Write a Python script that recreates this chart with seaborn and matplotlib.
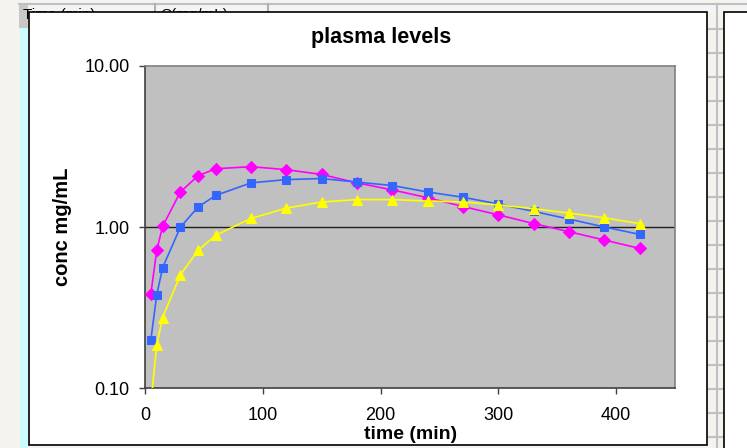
import matplotlib
matplotlib.use("Agg")
import matplotlib.pyplot as plt
import matplotlib.patches as mpatches
import matplotlib.lines as mlines
import seaborn as sns
import pandas as pd
from matplotlib.ticker import FixedLocator, FuncFormatter

# ---------------- data ----------------
time_min = [5, 10, 15, 30, 45, 60, 90, 120, 150, 180, 210, 240, 270, 300, 330, 360, 390, 420]
conc_magenta = [0.385, 0.72, 1.01, 1.65, 2.08, 2.30, 2.37, 2.27, 2.12, 1.88, 1.70, 1.52,
                1.34, 1.19, 1.05, 0.935, 0.83, 0.736]
conc_blue = [0.20, 0.38, 0.56, 0.996, 1.33, 1.57, 1.88, 1.97, 2.00, 1.90, 1.81, 1.65,
             1.53, 1.39, 1.25, 1.12, 1.00, 0.90]
conc_yellow = [0.08, 0.186, 0.274, 0.504, 0.715, 0.888, 1.13, 1.31, 1.43, 1.48, 1.48, 1.45,
               1.43, 1.37, 1.30, 1.22, 1.14, 1.05]
x_ticks = [0, 100, 200, 300, 400]
y_ticks = [0.1, 1.0, 10.0]
title = "plasma levels"
x_label = "time (min)"
y_label = "conc mg/mL"

W, H = 747, 448
plt.rcParams['font.family'] = ['Liberation Sans', 'DejaVu Sans']

fig = plt.figure(figsize=(W / 100, H / 100), dpi=100)
fig.patch.set_facecolor('#f5f3ee')


def fx(x):
    return x / W


def fy(y):
    return 1 - y / H


def rect(x0, y0, x1, y1, fc, ec='none', lw=0, z=0):
    r = mpatches.Rectangle((fx(x0), fy(y1)), fx(x1) - fx(x0), fy(y0) - fy(y1),
                           transform=fig.transFigure, facecolor=fc, edgecolor=ec,
                           linewidth=lw, zorder=z)
    fig.patches.append(r)


def fline(xs, ys, c, lw=1.0, z=1):
    fig.lines.append(mlines.Line2D([fx(v) for v in xs], [fy(v) for v in ys],
                                   transform=fig.transFigure, color=c, linewidth=lw, zorder=z))


# spreadsheet background pieces
rect(19, 4, W, 13, '#f4f4f4', z=0.5)          # column header band
rect(19, 4, 28, 28, '#c8c8c8', z=0.6)          # corner
rect(20, 28, 28, H, '#ccfcfd', z=0.6)          # cyan row strip
fline([19, W], [4.5, 4.5], '#c0c0c0', 1.5, 0.7)
for xv in [155, 268]:
    fline([xv, xv], [4, 13], '#b0b0b0', 1.5, 0.7)
fig.text(fx(23), fy(8), "Time (min)", fontsize=11, ha='left', va='top', zorder=0.8)
fig.text(fx(160), fy(8), "C(mg/mL)", fontsize=11, ha='left', va='top', zorder=0.8)

# gap between charts with cell grid
fline([716.5, 716.5], [4, H], '#c0c0c0', 1.5, 0.7)
for yv in range(29, H, 24):
    fline([707, 724], [yv, yv], '#c0c0c0', 1.5, 0.7)

# chart frames
rect(29, 12, 707, 445, 'white', 'black', 1.2, z=1)
rect(724, 12, W + 5, 452, 'white', 'black', 1.2, z=1)

# ---------------- axes ----------------
ax = fig.add_axes([fx(145), fy(388), fx(675) - fx(145), fy(66) - fy(388)])
ax.set_zorder(2)
ax.set_facecolor('#c0c0c0')

df_m = pd.DataFrame({'t': time_min, 'c': conc_magenta})
df_b = pd.DataFrame({'t': time_min, 'c': conc_blue})
df_y = pd.DataFrame({'t': time_min, 'c': conc_yellow})

sns.lineplot(data=df_m, x='t', y='c', ax=ax, color='#ff00ff', marker='D', markersize=6,
             markeredgecolor='#ff00ff', linewidth=1.2, zorder=3)
sns.lineplot(data=df_b, x='t', y='c', ax=ax, color='#3366ff', marker='s', markersize=6.3,
             markeredgecolor='#3366ff', linewidth=1.2, zorder=4)
sns.lineplot(data=df_y, x='t', y='c', ax=ax, color='#ffff00', marker='^', markersize=7.5,
             markeredgecolor='#ffff00', linewidth=1.2, zorder=5)

ax.set_yscale('log')
ax.set_xlim(0, 450)
ax.set_ylim(0.1, 10)
ax.xaxis.set_major_locator(FixedLocator(x_ticks))
ax.yaxis.set_major_locator(FixedLocator(y_ticks))
ax.yaxis.set_minor_locator(FixedLocator([]))
ax.yaxis.set_major_formatter(FuncFormatter(lambda v, p: f"{v:.2f}"))
ax.axhline(1.0, color='#202020', linewidth=1.0, zorder=2)

for s in ['top', 'right']:
    ax.spines[s].set_color('#808080')
    ax.spines[s].set_linewidth(1.2)
for s in ['left', 'bottom']:
    ax.spines[s].set_color('#404040')
    ax.spines[s].set_linewidth(1.2)

ax.tick_params(axis='both', direction='out', length=4, width=1, color='#404040',
               labelsize=13, labelcolor='black')
ax.tick_params(axis='y', pad=7)
ax.tick_params(axis='x', pad=10)
ax.set_xlabel('')
ax.set_ylabel('')

fig.text(fx(381), fy(37), title, fontsize=15.5, fontweight='bold', ha='center', va='center', zorder=3)
fig.text(fx(411), fy(434), x_label, fontsize=14, fontweight='bold', ha='center', va='center', zorder=3)
fig.text(fx(62), fy(227), y_label, fontsize=14.5, fontweight='bold', ha='center', va='center',
         rotation=90, zorder=3)

fig.savefig('out.png', dpi=100, facecolor=fig.get_facecolor())
